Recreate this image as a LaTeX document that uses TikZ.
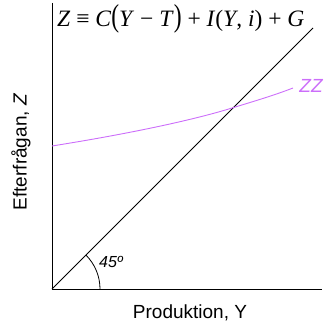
\documentclass[tikz,border=0pt]{standalone}
\usepackage{fontspec}
\usepackage{graphicx}
\setmainfont{Liberation Serif}
\setsansfont{Liberation Sans}
\definecolor{zzviolet}{RGB}{204,110,250}

\begin{document}
\begin{tikzpicture}[x=1pt,y=1pt,every node/.style={font=\sffamily\fontsize{19}{21}\selectfont}]
\useasboundingbox (0,0) rectangle (328,324);
\coordinate (O) at (52,35);
\coordinate (ytop) at (52,321);
\coordinate (xend) at (322,35);
\coordinate (dend) at (313,296);
\draw[line width=0.9pt] (ytop) -- (O) -- (xend);
\draw[line width=0.8pt] (O) -- (dend);
\draw[zzviolet,line width=0.9pt] (52,178) .. controls (140,192) and (200,206) .. (232,216) .. controls (255,223) and (275,229) .. (293,236);
\node[zzviolet,font=\sffamily\itshape\fontsize{19}{21}\selectfont] (zz) at (311,238) {ZZ};
\draw[line width=0.8pt] ([shift={(45:48)}]O) arc (45:0:48);
\node[font=\sffamily\itshape\fontsize{16}{18}\selectfont] (deg) at (111,62) {45º};
\node (xlabel) at (190,11) {Produktion, Y};
\node[rotate=90] (ylabel) at (21,172) {Efterfrågan, \textit{Z}};
\node[anchor=west,font=\rmfamily\fontsize{23.5}{25}\selectfont,inner sep=0pt] (eq) at (57,305)
  {\textit{Z} ≡ \textit{C}\scalebox{1}[1.35]{(}\textit{Y} − \textit{T}\scalebox{1}[1.35]{)} + \textit{I}(\textit{Y}, \textit{i}) + \textit{G}};
\end{tikzpicture}
\end{document}
